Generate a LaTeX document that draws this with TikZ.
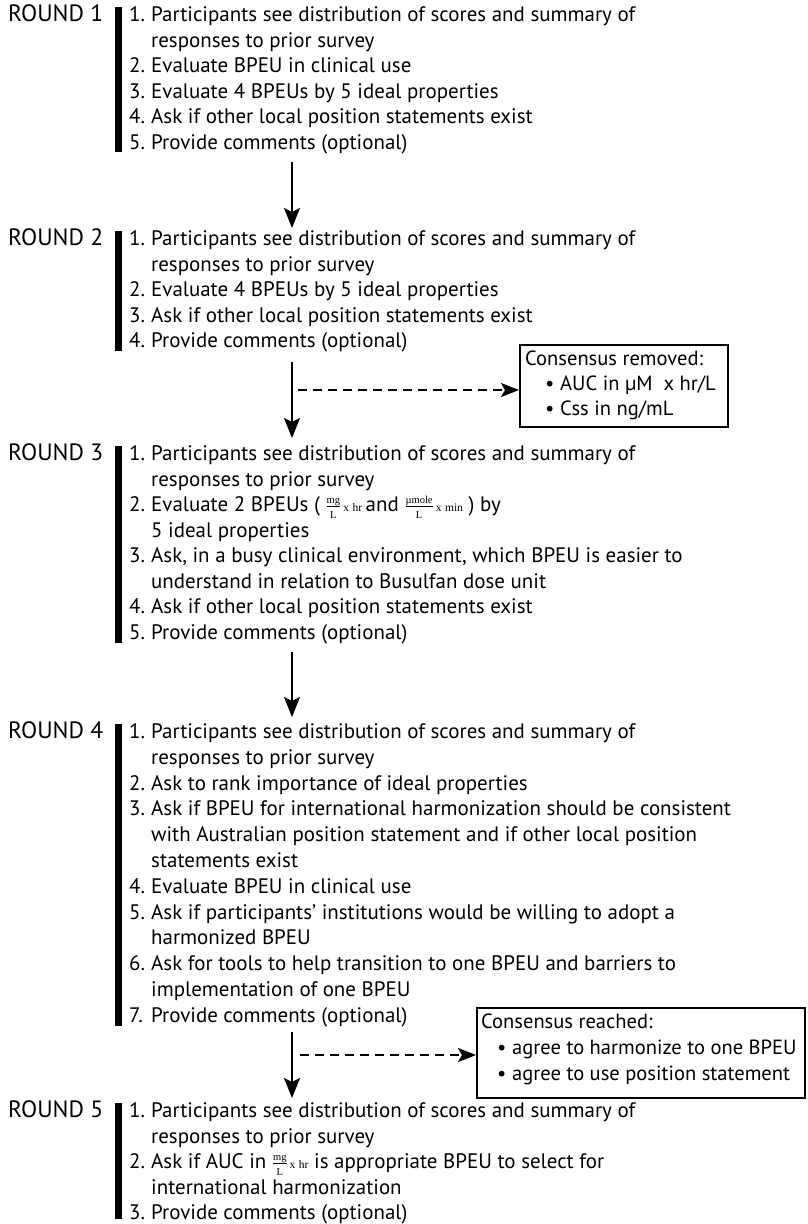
\documentclass[tikz,border=0pt]{standalone}
\usepackage{fontspec}
\setmainfont{PT Sans}
\newfontfamily\serfont{Liberation Serif}
\usetikzlibrary{arrows.meta}

\newlength\reflen
\newlength\roundlen
% small serif used for the unit fractions
\newcommand\fsm{\serfont\fontsize{10.5}{10.5}\selectfont}
\newcommand\fun{\serfont\fontsize{11.5}{11.5}\selectfont}
\newcommand\ufrac[2]{$\smash{\frac{\hbox{\fsm #1}}{\hbox{\fsm #2}}}$}
\newcommand\unitx[2]{{\fun\hspace{2pt}#1\hspace{3.5pt}#2}}
% one numbered item / one continuation line, given the line's middle height
\newcommand\itemline[4]{%
  \node[txt] (#1-n) at (129,#2+5.5) {#3.};
  \node[txt] (#1) at (151,#2+5.5) {#4};}
\newcommand\contline[3]{\node[txt] (#1) at (151,#2+5.5) {#3};}
\newcommand\bul{\textbullet\hspace{0.28em}}

\begin{document}
% font sizes from the widths of two sample strings
\settowidth\reflen{\normalfont\fontsize{10}{12}\selectfont Participants see distribution of scores and summary of}
\pgfmathsetmacro\fsz{10*484/\reflen}
\pgfmathsetmacro\bsz{0.98*\fsz}
\settowidth\roundlen{\normalfont\fontsize{10}{12}\selectfont ROUND 1}
\pgfmathsetmacro\rsz{10*95/\roundlen}
\begin{tikzpicture}[x=1pt,y=-1pt,
  txt/.style={anchor=base west, inner sep=0pt, font=\fontsize{\fsz}{\fsz}\selectfont},
  boxtxt/.style={anchor=base west, inner sep=0pt, font=\fontsize{\bsz}{\bsz}\selectfont},
  lbl/.style={anchor=base west, inner sep=0pt, font=\fontsize{\rsz}{\rsz}\selectfont},
  bar/.style={line width=6.5pt},
  flow/.style={line width=2pt, -{Stealth[length=20pt,width=16pt,inset=4pt]}},
  dflow/.style={line width=2pt, dash pattern=on 9pt off 6pt,
                -{Stealth[length=18pt,width=14pt,inset=4pt]}},
  consbox/.style={draw, line width=2pt, inner sep=0pt}]

\useasboundingbox[fill=white] (0,0) rectangle (807,1224);

% ---------- Round 1 ----------
\node[lbl] (r1) at (8,16+5.5) {ROUND 1};
\draw[bar] (118.5,7) -- (118.5,152);
\itemline{r1i1}{16}{1}{Participants see distribution of scores and summary of}
\contline{r1i1b}{41.5}{responses to prior survey}
\itemline{r1i2}{67}{2}{Evaluate BPEU in clinical use}
\itemline{r1i3}{92.5}{3}{Evaluate 4 BPEUs by 5 ideal properties}
\itemline{r1i4}{118}{4}{Ask if other local position statements exist}
\itemline{r1i5}{143.5}{5}{Provide comments (optional)}

\coordinate (a1s) at (292,162);
\coordinate (a1e) at (292,228);
\draw[flow] (a1s) -- (a1e);

% ---------- Round 2 ----------
\node[lbl] (r2) at (8,240+5.5) {ROUND 2};
\draw[bar] (118.5,231) -- (118.5,351);
\itemline{r2i1}{240}{1}{Participants see distribution of scores and summary of}
\contline{r2i1b}{265.5}{responses to prior survey}
\itemline{r2i2}{291}{2}{Evaluate 4 BPEUs by 5 ideal properties}
\itemline{r2i3}{316.5}{3}{Ask if other local position statements exist}
\itemline{r2i4}{342}{4}{Provide comments (optional)}

\coordinate (a2s) at (292,362);
\coordinate (a2e) at (292,438);
\draw[flow] (a2s) -- (a2e);

\node[consbox, minimum width=208pt, minimum height=82pt] (box1) at (624,386) {};
\node[boxtxt] (box1t) at (525,360+5.5) {Consensus removed:};
\node[boxtxt] (box1a) at (545,385+5.5) {\bul AUC in µM \ x hr/L};
\node[boxtxt] (box1b) at (545,410+5.5) {\bul Css in ng/mL};
\coordinate (d1s) at (298,390);
\draw[dflow] (d1s) -- (d1s -| box1.west);

% ---------- Round 3 ----------
\node[lbl] (r3) at (8,455+5.5) {ROUND 3};
\draw[bar] (118.5,446) -- (118.5,643);
\itemline{r3i1}{455}{1}{Participants see distribution of scores and summary of}
\contline{r3i1b}{480.5}{responses to prior survey}
\itemline{r3i2}{506}{2}{Evaluate 2 BPEUs ( \ufrac{mg}{L}\unitx{x}{hr}\,and \ufrac{µmole}{L}\unitx{x}{min} ) by}
\contline{r3i2b}{531.5}{5 ideal properties}
\itemline{r3i3}{557}{3}{Ask, in a busy clinical environment, which BPEU is easier to}
\contline{r3i3b}{582.5}{understand in relation to Busulfan dose unit}
\itemline{r3i4}{608}{4}{Ask if other local position statements exist}
\itemline{r3i5}{633.5}{5}{Provide comments (optional)}

\coordinate (a3s) at (292,652);
\coordinate (a3e) at (292,717);
\draw[flow] (a3s) -- (a3e);

% ---------- Round 4 ----------
\node[lbl] (r4) at (8,733+5.5) {ROUND 4};
\draw[bar] (118.5,724) -- (118.5,1026);
\itemline{r4i1}{733}{1}{Participants see distribution of scores and summary of}
\contline{r4i1b}{758.8}{responses to prior survey}
\itemline{r4i2}{784.6}{2}{Ask to rank importance of ideal properties}
\itemline{r4i3}{810.4}{3}{Ask if BPEU for international harmonization should be consistent}
\contline{r4i3b}{836.2}{with Australian position statement and if other local position}
\contline{r4i3c}{862}{statements exist}
\itemline{r4i4}{887.8}{4}{Evaluate BPEU in clinical use}
\itemline{r4i5}{913.6}{5}{Ask if participants’ institutions would be willing to adopt a}
\contline{r4i5b}{939.4}{harmonized BPEU}
\itemline{r4i6}{965.2}{6}{Ask for tools to help transition to one BPEU and barriers to}
\contline{r4i6b}{991}{implementation of one BPEU}
\itemline{r4i7}{1016.8}{7}{Provide comments (optional)}

\coordinate (a4s) at (292,1032);
\coordinate (a4e) at (292,1098);
\draw[flow] (a4s) -- (a4e);

\node[consbox, minimum width=328pt, minimum height=90pt] (box2) at (641,1053) {};
\node[boxtxt] (box2t) at (481,1023+5.5) {Consensus reached:};
\node[boxtxt] (box2a) at (497,1049+5.5) {\bul agree to harmonize to one BPEU};
\node[boxtxt] (box2b) at (497,1075+5.5) {\bul agree to use position statement};
\coordinate (d2s) at (300,1055);
\draw[dflow] (d2s) -- (d2s -| box2.west);

% ---------- Round 5 ----------
\node[lbl] (r5) at (8,1112+5.5) {ROUND 5};
\draw[bar] (118.5,1103) -- (118.5,1219);
\itemline{r5i1}{1112}{1}{Participants see distribution of scores and summary of}
\contline{r5i1b}{1137.5}{responses to prior survey}
\itemline{r5i2}{1163}{2}{Ask if AUC in \ufrac{mg}{L}\unitx{x}{hr} is appropriate BPEU to select for}
\contline{r5i2b}{1188.5}{international harmonization}
\itemline{r5i3}{1214}{3}{Provide comments (optional)}

\end{tikzpicture}
\end{document}
